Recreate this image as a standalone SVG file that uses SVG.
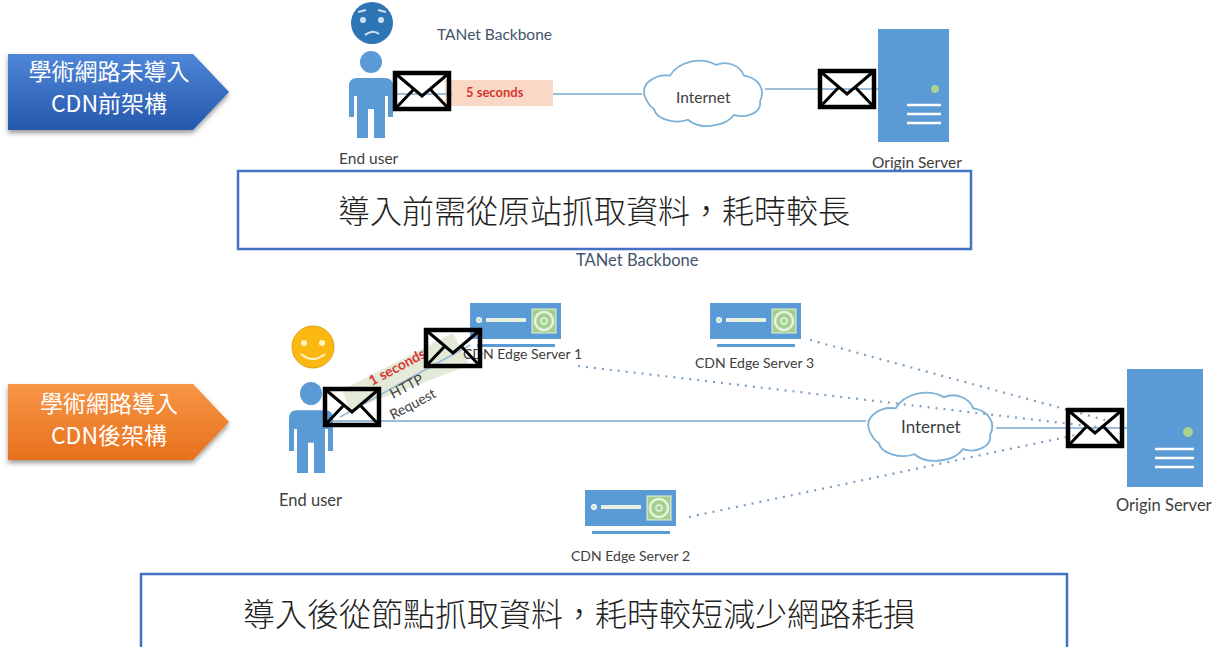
<svg xmlns="http://www.w3.org/2000/svg" width="1221" height="647" viewBox="0 0 1221 647" xml:lang="zh-TW">
<style>
text{font-family:"Lato","Liberation Sans","Noto Sans CJK TC",sans-serif;fill:#404040}
.lbl{font-size:15.5px}
.small{font-size:14px}
.banner{font-family:"Noto Sans CJK TC",sans-serif;font-size:23px;fill:#fff;text-anchor:middle;font-weight:400}
.note{font-family:"Noto Sans CJK TC",sans-serif;font-size:32px;fill:#222;text-anchor:middle;font-weight:300}
.box{fill:#fff;stroke:#4472c4;stroke-width:2.5}
.blue{fill:#5b9bd5}
.wire{stroke:#9dbcd9;stroke-width:2;fill:none}
.dots{stroke:#7f9fc0;stroke-width:2.2;stroke-dasharray:2 6;fill:none}
.cloud{fill:none;stroke:#7fb2d6;stroke-width:1.8}
.ln{stroke:#fff;stroke-width:2.6}
.env-l{fill:none;stroke:#000;stroke-width:3}
.red{fill:#d9352f;font-weight:700}
</style>
<defs>
<linearGradient id="gb" x1="0" y1="0" x2="0" y2="1"><stop offset="0" stop-color="#4f86d8"/><stop offset="1" stop-color="#2558ac"/></linearGradient>
<linearGradient id="go" x1="0" y1="0" x2="0" y2="1"><stop offset="0" stop-color="#f79646"/><stop offset="1" stop-color="#e8701c"/></linearGradient>
<filter id="sh" x="-10%" y="-10%" width="120%" height="130%"><feDropShadow dx="0" dy="3" stdDeviation="2.5" flood-color="#000" flood-opacity=".4"/></filter>
<g id="envelope">
<rect x="2" y="2" width="54" height="36" fill="none" stroke="#000" stroke-width="4.5"/>
<path class="env-l" d="M3 3L29 25L55 3M3 37L21 18M55 37L37 18"/>
</g>
<g id="person">
<circle cx="22" cy="11" r="11" class="blue"/>
<path class="blue" d="M8 27H36Q44 27 44 35V66H39V45H36V87H25V58H19V87H8V45H5V66H0V35Q0 27 8 27Z"/>
</g>
<g id="edge">
<rect x="0" y="0" width="91" height="36" class="blue"/>
<rect x="7" y="41" width="78" height="3" class="blue"/>
<circle cx="9" cy="17" r="2.6" fill="#cfe5d0" stroke="#fff"/>
<rect x="16" y="15" width="40" height="4" fill="#e6f0e0"/>
<rect x="62" y="6" width="24" height="24" fill="#a5cf8c" stroke="#e8f2e0"/>
<circle cx="74" cy="18" r="9" fill="none" stroke="#e8f2e0" stroke-width="2.5"/>
<circle cx="74" cy="18" r="3" fill="none" stroke="#e8f2e0" stroke-width="1.5"/>
</g>
<path id="cloudshape" d="M8 42C0 26 18 16 32 18C40 4 62-2 78 7C90 2 102 8 106 18C120 20 128 32 122 44C124 56 108 62 96 58C88 70 62 74 50 63C36 68 18 62 16 52C12 50 10 46 8 42Z"/>
</defs>

<g id="banner-before">
<path d="M8 54H193L229 92L193 130H8Z" fill="url(#gb)" filter="url(#sh)"/>
<text class="banner" x="109" y="80">學術網路未導入</text>
<text class="banner" x="109" y="112">CDN前架構</text>
</g>
<g id="banner-after">
<path d="M8 384H193L229 422L193 460H8Z" fill="url(#go)" filter="url(#sh)"/>
<text class="banner" x="109" y="412">學術網路導入</text>
<text class="banner" x="109" y="444">CDN後架構</text>
</g>

<g id="latency-top">
<rect x="445" y="80" width="108" height="26" fill="#f9d9c5"/>
<text class="red" x="466" y="97" font-size="13">5 seconds</text>
</g>
<g id="latency-bottom">
<path d="M342 390L453 333L470 365L350 410Z" fill="#e3ebd8"/>
</g>

<g id="cloud-top">
<use href="#cloudshape" class="cloud" transform="translate(638,58) scale(1,0.98)"/>
<text x="676" y="103" font-size="15.5">Internet</text>
</g>
<g id="cloud-bottom">
<use href="#cloudshape" class="cloud" transform="translate(862,390) scale(1.05,1.02)"/>
<text x="901" y="433" font-size="17">Internet</text>
</g>

<g id="connectors">
<line class="wire" x1="553" y1="94" x2="642" y2="94"/>
<line class="wire" x1="765" y1="89" x2="878" y2="89"/>
<line class="wire" x1="392" y1="94" x2="452" y2="94"/>
<line class="wire" x1="333" y1="421" x2="866" y2="421"/>
<line class="wire" x1="996" y1="428" x2="1127" y2="428"/>
<line class="wire" x1="340" y1="417" x2="470" y2="345"/>
<line class="dots" x1="578" y1="366" x2="1105" y2="428"/>
<line class="dots" x1="810" y1="340" x2="1105" y2="420"/>
<line class="dots" x1="689" y1="517" x2="1085" y2="433"/>
</g>

<g id="user-top">
<circle cx="372" cy="23" r="21" fill="#2e75b6"/>
<circle cx="363" cy="20" r="3" fill="#cfe0f0"/><circle cx="381" cy="20" r="3" fill="#cfe0f0"/>
<path d="M358 12L366 10M378 10L386 12M365 35Q373 29 379 34" stroke="#cfe0f0" stroke-width="2" fill="none"/>
<use href="#person" x="349" y="51"/>
<text class="lbl" x="339" y="164">End user</text>
</g>
<text x="437" y="40" font-size="15.5" style="fill:#44546a">TANet Backbone</text>
<g id="origin-top">
<rect x="878" y="29" width="71" height="113" class="blue"/>
<circle cx="935" cy="89" r="4" fill="#a9d18e"/>
<path class="ln" d="M907 105H941M907 114H941M907 123H941"/>
<text class="lbl" x="872" y="168">Origin Server</text>
</g>
<use id="mail-1" href="#envelope" x="393" y="71"/>
<use id="mail-2" href="#envelope" x="818" y="69"/>

<g id="note-top">
<rect class="box" x="238" y="171" width="733" height="78"/>
<text class="note" x="594" y="223">導入前需從原站抓取資料，耗時較長</text>
</g>
<text x="576" y="266" font-size="16.5" style="fill:#44546a">TANet Backbone</text>

<g id="user-bottom">
<circle cx="313" cy="347" r="21" fill="#fbb811" stroke="#e0a010"/>
<circle cx="304" cy="343" r="3" fill="#fff3c8"/><circle cx="322" cy="343" r="3" fill="#fff3c8"/>
<path d="M301 354Q313 364 325 354" stroke="#fff3c8" stroke-width="2" fill="none"/>
<use href="#person" transform="translate(289,382) scale(1,1.046)"/>
<text x="279" y="506" font-size="16.5">End user</text>
</g>
<g id="latency-labels">
<text class="red" transform="translate(372,386) rotate(-28)" font-size="14">1 seconds</text>
<text transform="translate(393,399) rotate(-28)" font-size="14">HTTP</text>
<text transform="translate(393,420) rotate(-28)" font-size="14">Request</text>
</g>
<g id="edge-1">
<use href="#edge" x="470" y="303"/>
<text class="small" x="463" y="359">CDN Edge Server 1</text>
</g>
<g id="edge-3">
<use href="#edge" x="710" y="303"/>
<text class="small" x="695" y="368">CDN Edge Server 3</text>
</g>
<g id="edge-2">
<use href="#edge" x="585" y="490"/>
<text class="small" x="571" y="561">CDN Edge Server 2</text>
</g>
<g id="origin-bottom">
<rect x="1127" y="369" width="76" height="118" class="blue"/>
<circle cx="1188" cy="432" r="5" fill="#a9d18e"/>
<path class="ln" d="M1155 449H1194M1155 458H1194M1155 467H1194"/>
<text x="1116" y="511" font-size="16.5">Origin Server</text>
</g>
<use id="mail-3" href="#envelope" x="323" y="387"/>
<use id="mail-4" href="#envelope" x="424" y="328"/>
<use id="mail-5" href="#envelope" x="1066" y="408"/>

<g id="note-bottom">
<rect class="box" x="141" y="574" width="926" height="78"/>
<text class="note" x="579" y="626">導入後從節點抓取資料，耗時較短減少網路耗損</text>
</g>
</svg>
